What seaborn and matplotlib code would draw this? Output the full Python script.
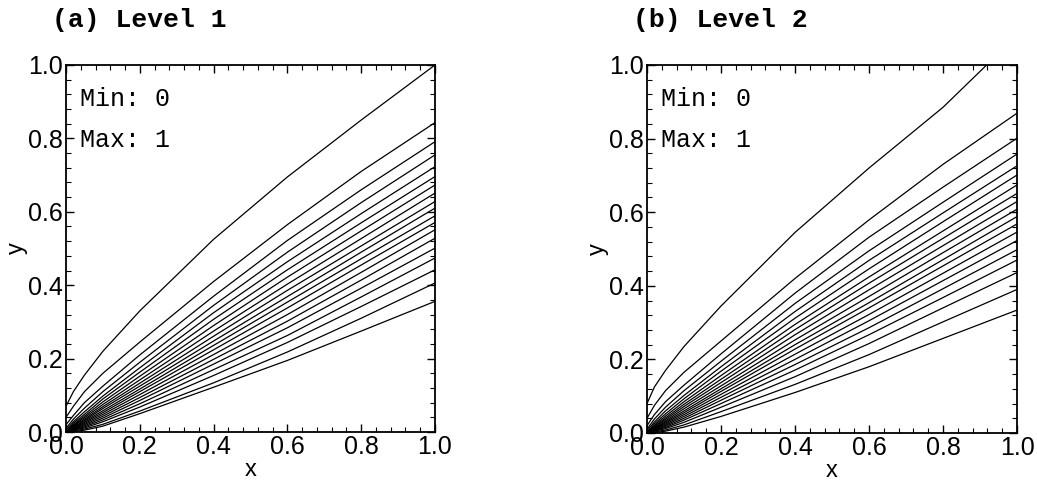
import numpy as np
import pandas as pd
import matplotlib
matplotlib.use("Agg")
import matplotlib.pyplot as plt
import seaborn as sns
from matplotlib.ticker import MultipleLocator

# ---------------- data ----------------
X_PTS = [0.0, 0.02, 0.05, 0.1, 0.2, 0.4, 0.6, 0.8, 1.0]

LEVEL1_LINES = [
    [0.07, 0.11, 0.155, 0.22, 0.33, 0.525, 0.695, 0.85, 1.0],
    [0.04, 0.07, 0.11, 0.16, 0.245, 0.41, 0.565, 0.71, 0.843],
    [0.02, 0.045, 0.08, 0.125, 0.21, 0.37, 0.522, 0.66, 0.791],
    [0.01, 0.035, 0.065, 0.11, 0.19, 0.345, 0.49, 0.625, 0.755],
    [0.005, 0.028, 0.055, 0.098, 0.175, 0.325, 0.464, 0.595, 0.723],
    [0.0, 0.024, 0.048, 0.09, 0.163, 0.307, 0.442, 0.57, 0.696],
    [0.0, 0.02, 0.043, 0.082, 0.152, 0.29, 0.422, 0.548, 0.673],
    [0.0, 0.018, 0.039, 0.075, 0.142, 0.275, 0.403, 0.527, 0.651],
    [0.0, 0.016, 0.035, 0.069, 0.133, 0.261, 0.386, 0.507, 0.628],
    [0.0, 0.014, 0.032, 0.064, 0.125, 0.248, 0.369, 0.49, 0.61],
    [0.0, 0.012, 0.029, 0.058, 0.117, 0.236, 0.354, 0.472, 0.589],
    [0.0, 0.011, 0.026, 0.053, 0.11, 0.224, 0.338, 0.455, 0.571],
    [0.0, 0.01, 0.023, 0.048, 0.102, 0.211, 0.32, 0.435, 0.551],
    [0.0, 0.008, 0.02, 0.043, 0.094, 0.198, 0.302, 0.414, 0.528],
    [0.0, 0.007, 0.017, 0.038, 0.086, 0.185, 0.284, 0.392, 0.501],
    [0.0, 0.006, 0.014, 0.033, 0.077, 0.17, 0.263, 0.368, 0.474],
    [0.0, 0.005, 0.011, 0.028, 0.068, 0.154, 0.244, 0.342, 0.442],
    [0.0, 0.003, 0.008, 0.021, 0.057, 0.134, 0.218, 0.31, 0.406],
    [0.0, 0.001, 0.005, 0.016, 0.05, 0.122, 0.195, 0.275, 0.356],
]

LEVEL2_LINES = [
    [0.08, 0.125, 0.17, 0.235, 0.345, 0.545, 0.72, 0.885, 1.08],
    [0.04, 0.075, 0.115, 0.165, 0.25, 0.42, 0.579, 0.73, 0.869],
    [0.02, 0.05, 0.085, 0.13, 0.215, 0.38, 0.532, 0.668, 0.801],
    [0.01, 0.038, 0.07, 0.115, 0.195, 0.352, 0.495, 0.627, 0.758],
    [0.005, 0.03, 0.06, 0.102, 0.18, 0.33, 0.469, 0.598, 0.726],
    [0.0, 0.025, 0.052, 0.093, 0.168, 0.312, 0.446, 0.574, 0.701],
    [0.0, 0.021, 0.046, 0.085, 0.156, 0.295, 0.424, 0.549, 0.674],
    [0.0, 0.018, 0.041, 0.078, 0.146, 0.281, 0.407, 0.529, 0.651],
    [0.0, 0.016, 0.037, 0.072, 0.137, 0.267, 0.389, 0.509, 0.629],
    [0.0, 0.014, 0.033, 0.066, 0.128, 0.253, 0.371, 0.49, 0.608],
    [0.0, 0.012, 0.03, 0.06, 0.12, 0.24, 0.354, 0.471, 0.588],
    [0.0, 0.011, 0.027, 0.055, 0.113, 0.228, 0.34, 0.454, 0.568],
    [0.0, 0.01, 0.024, 0.05, 0.105, 0.214, 0.322, 0.434, 0.546],
    [0.0, 0.008, 0.021, 0.045, 0.097, 0.2, 0.305, 0.414, 0.523],
    [0.0, 0.007, 0.018, 0.04, 0.089, 0.186, 0.286, 0.392, 0.498],
    [0.0, 0.006, 0.015, 0.035, 0.08, 0.171, 0.267, 0.368, 0.47],
    [0.0, 0.005, 0.012, 0.029, 0.07, 0.153, 0.243, 0.34, 0.436],
    [0.0, 0.003, 0.008, 0.022, 0.058, 0.132, 0.213, 0.302, 0.39],
    [0.0, 0.001, 0.005, 0.016, 0.045, 0.11, 0.18, 0.257, 0.334],
]

PANEL_TITLES = ["(a) Level 1", "(b) Level 2"]
MIN_TEXT = "Min: 0"
MAX_TEXT = "Max: 1"
TICKS = [0.0, 0.2, 0.4, 0.6, 0.8, 1.0]
TICK_LABELS = ["0.0", "0.2", "0.4", "0.6", "0.8", "1.0"]


def to_long(lines):
    rows = []
    for i, ys in enumerate(lines):
        for x, y in zip(X_PTS, ys):
            rows.append({"x": x, "y": y, "line": i})
    return pd.DataFrame(rows)


# ---------------- style ----------------
sns.set_theme(style="ticks")
plt.rcParams["font.family"] = ["Liberation Sans", "DejaVu Sans"]
plt.rcParams["axes.linewidth"] = 1.3

fig = plt.figure(figsize=(10.37, 4.83), dpi=100)
fig.patch.set_facecolor("white")

axes_pos = [
    [66 / 1037, 1 - 432 / 483, (435 - 66) / 1037, (432 - 65) / 483],
    [647 / 1037, 1 - 433 / 483, (1017 - 647) / 1037, (433 - 65) / 483],
]
title_x = [52 / 1037, 633 / 1037]

for k, lines in enumerate([LEVEL1_LINES, LEVEL2_LINES]):
    ax = fig.add_axes(axes_pos[k])
    ax.set_facecolor("white")
    df = to_long(lines)
    sns.lineplot(data=df, x="x", y="y", units="line", estimator=None,
                 sort=False, color="black", linewidth=0.9, ax=ax,
                 legend=False)
    ax.set_xlim(0, 1)
    ax.set_ylim(0, 1)
    ax.set_xticks(TICKS)
    ax.set_xticklabels(TICK_LABELS)
    ax.set_yticks(TICKS)
    ax.set_yticklabels(TICK_LABELS)
    ax.xaxis.set_minor_locator(MultipleLocator(0.04))
    ax.yaxis.set_minor_locator(MultipleLocator(0.04))
    ax.tick_params(which="both", direction="in", top=True, right=True,
                   color="black", labelsize=18, labelcolor="black")
    ax.tick_params(which="major", length=6, width=1.0, pad=2)
    ax.tick_params(which="minor", length=3.5, width=0.8)
    for sp in ax.spines.values():
        sp.set_visible(True)
        sp.set_color("black")
    ax.set_xlabel("x", fontsize=17, labelpad=0, color="black")
    ax.set_ylabel("y", fontsize=17, labelpad=0, color="black")
    ax.text(0.038, 0.907, MIN_TEXT, transform=ax.transAxes,
            family="Liberation Mono", fontsize=18, va="center", ha="left",
            color="black")
    ax.text(0.038, 0.796, MAX_TEXT, transform=ax.transAxes,
            family="Liberation Mono", fontsize=18, va="center", ha="left",
            color="black")
    fig.text(title_x[k], 1 - 20 / 483, PANEL_TITLES[k],
             family="Liberation Mono", fontweight="bold", fontsize=19,
             va="center", ha="left", color="black")

fig.savefig("out.png", dpi=100, facecolor="white")
